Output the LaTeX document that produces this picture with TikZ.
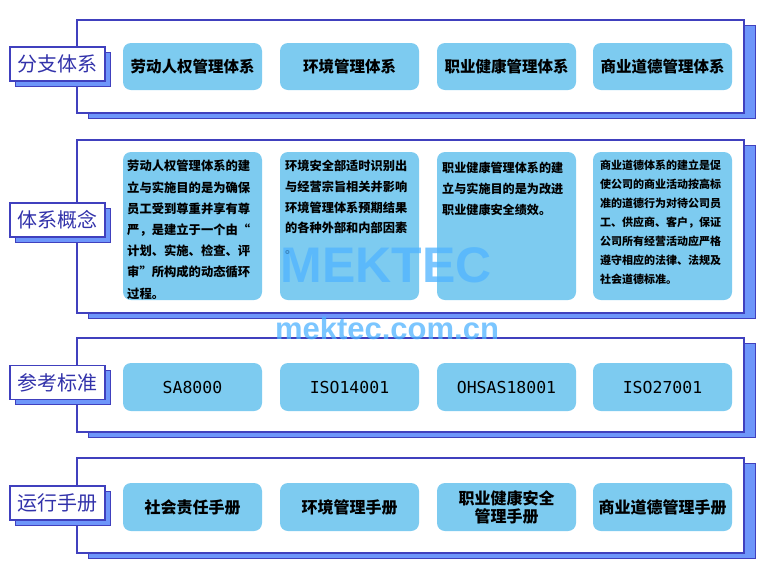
\documentclass[tikz,border=0pt]{standalone}
\usepackage{fontspec}
\newfontfamily\cjk{Noto Sans CJK SC}
\newfontfamily\wmfont{Liberation Sans}
\newfontfamily\monof{DejaVu Sans Mono}
\definecolor{panelline}{RGB}{64,64,190}
\definecolor{shadowfill}{RGB}{110,150,250}
\definecolor{boxfill}{RGB}{125,203,240}
\definecolor{labeltext}{RGB}{50,50,170}
\definecolor{wm}{RGB}{80,180,255}
\tikzset{
  panel/.style={draw=panelline, line width=1.3pt, fill=white, minimum width=667pt, inner sep=0},
  pshadow/.style={draw=panelline, line width=1pt, fill=shadowfill, minimum width=667pt, inner sep=0},
  labelbox/.style={draw=panelline, line width=1.2pt, fill=white, minimum width=95pt, minimum height=34pt, inner sep=0, font=\cjk\fontsize{20}{20}\selectfont, text=labeltext},
  lshadow/.style={draw=panelline, line width=1pt, fill=shadowfill, minimum width=95pt, minimum height=34pt, inner sep=0},
  ibox/.style={fill=boxfill, rounded corners=8pt, minimum width=139pt, inner sep=0, align=center},
  headtext/.style={font=\cjk\bfseries\fontsize{15.5}{18}\selectfont},
  stdtext/.style={font=\monof\fontsize{16.5}{18}\selectfont},
  desctext/.style={anchor=north west, inner sep=0, align=left, font=\cjk\bfseries\fontsize{12.3}{21.2}\selectfont},
  wmtext/.style={text=wm, text opacity=0.75, inner sep=0}
}
\begin{document}
\begin{tikzpicture}[x=1pt,y=-1pt]
\useasboundingbox[fill=white] (0,0) rectangle (774,579);

% ---------- panels (shadow + body) ----------
\node[pshadow, minimum height=93pt]  (s1) at (421.5,71.5) {};
\node[panel,   minimum height=93pt]  (p1) at (410.5,66.5) {};
\node[pshadow, minimum height=173pt] (s2) at (421.5,231.5) {};
\node[panel,   minimum height=173pt] (p2) at (410.5,226.5) {};
\node[pshadow, minimum height=94pt]  (s3) at (421.5,390) {};
\node[panel,   minimum height=94pt]  (p3) at (410.5,385) {};
\node[pshadow, minimum height=95pt]  (s4) at (421.5,510.5) {};
\node[panel,   minimum height=95pt]  (p4) at (410.5,505.5) {};

% ---------- label boxes ----------
\node[lshadow] (ls1) at (62.5,69) {};
\node[labelbox] (l1) at (57.5,64) {分支体系};
\node[lshadow] (ls2) at (62.5,225) {};
\node[labelbox] (l2) at (57.5,220) {体系概念};
\node[lshadow] (ls3) at (62.5,387.5) {};
\node[labelbox] (l3) at (57.5,382.5) {参考标准};
\node[lshadow] (ls4) at (62.5,508) {};
\node[labelbox] (l4) at (57.5,503) {运行手册};

% ---------- row 1 ----------
\node[ibox, headtext, minimum height=47pt] (a1) at (192.5,66.5) {劳动人权管理体系};
\node[ibox, headtext, minimum height=47pt] (a2) at (349.5,66.5) {环境管理体系};
\node[ibox, headtext, minimum height=47pt] (a3) at (506.5,66.5) {职业健康管理体系};
\node[ibox, headtext, minimum height=47pt] (a4) at (662.5,66.5) {商业道德管理体系};

% ---------- row 2 ----------
\node[ibox, minimum height=148pt] (b1) at (192.5,226) {};
\node[ibox, minimum height=148pt] (b2) at (349.5,226) {};
\node[ibox, minimum height=148pt] (b3) at (506.5,226) {};
\node[ibox, minimum height=148pt] (b4) at (662.5,226) {};
\node[desctext] (t1) at (127,160) {劳动人权管理体系的建\\立与实施目的是为确保\\员工受到尊重并享有尊\\严，是建立于一个由“\\计划、实施、检查、评\\审”所构成的动态循环\\过程。};
\node[desctext, font=\cjk\bfseries\fontsize{12.2}{20.7}\selectfont] (t2) at (285,160) {环境安全部适时识别出\\与经营宗旨相关并影响\\环境管理体系预期结果\\的各种外部和内部因素\\。};
\node[desctext, font=\cjk\bfseries\fontsize{12.1}{21}\selectfont] (t3) at (442,162) {职业健康管理体系的建\\立与实施目的是为改进\\职业健康安全绩效。};
\node[desctext, font=\cjk\bfseries\fontsize{11}{19}\selectfont] (t4) at (600,160) {商业道德体系的建立是促\\使公司的商业活动按高标\\准的道德行为对待公司员\\工、供应商、客户，保证\\公司所有经营活动应严格\\遵守相应的法律、法规及\\社会道德标准。};

% ---------- row 3 ----------
\node[ibox, stdtext, minimum height=48pt] (c1) at (192.5,387) {SA8000};
\node[ibox, stdtext, minimum height=48pt] (c2) at (349.5,387) {ISO14001};
\node[ibox, stdtext, minimum height=48pt] (c3) at (506.5,387) {OHSAS18001};
\node[ibox, stdtext, minimum height=48pt] (c4) at (662.5,387) {ISO27001};

% ---------- row 4 ----------
\node[ibox, headtext, font=\cjk\bfseries\fontsize{16}{18}\selectfont, minimum height=48pt] (d1) at (192.5,507) {社会责任手册};
\node[ibox, headtext, font=\cjk\bfseries\fontsize{16}{18}\selectfont, minimum height=48pt] (d2) at (349.5,507) {环境管理手册};
\node[ibox, headtext, font=\cjk\bfseries\fontsize{16}{18}\selectfont, minimum height=48pt] (d3) at (506.5,507) {职业健康安全\\管理手册};
\node[ibox, headtext, font=\cjk\bfseries\fontsize{16}{18}\selectfont, minimum height=48pt] (d4) at (662.5,507) {商业道德管理手册};

% ---------- watermark ----------
\node[wmtext, font=\wmfont\bfseries\fontsize{50}{50}\selectfont] (w1) at (386,265) {MEKTEC};
\node[wmtext, font=\wmfont\bfseries\fontsize{31}{31}\selectfont] (w2) at (387,328) {mektec.com.cn};
\end{tikzpicture}
\end{document}
